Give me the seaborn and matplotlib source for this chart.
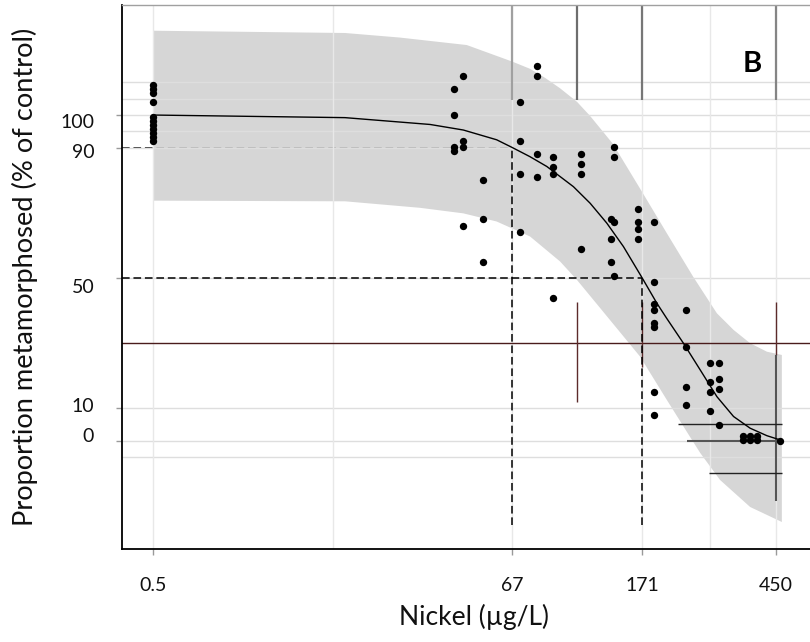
import numpy as np
import pandas as pd
import matplotlib
matplotlib.use("Agg")
import matplotlib.pyplot as plt
from matplotlib.ticker import FixedLocator, NullLocator
from matplotlib.transforms import ScaledTranslation
import seaborn as sns

# ---------------- data ----------------
control_conc = 0.5
control_resp = [109.2, 108.0, 106.8, 104.1, 99.4, 98.2, 97.0, 95.7, 94.5, 93.3, 92.1]

conc = [47.0, 44.1, 44.1, 47.0, 47.0, 44.1, 44.1, 54.0, 47.0, 54.0, 54.0,
        79.9, 79.9, 70.8, 70.8, 79.9, 70.8, 79.9, 70.8,
        90.1, 90.1, 90.1, 90.1,
        110.0, 110.0, 110.0, 110.0,
        139.9, 139.9, 136.4, 139.9, 136.4, 136.4, 139.9,
        166.5, 166.5, 166.5, 166.5,
        186.9, 186.9, 186.9, 186.9, 186.9, 186.9, 186.9, 186.9,
        234.4, 234.4, 234.4, 234.4,
        279.4, 279.4, 279.4, 279.4,
        297.8, 297.8, 297.8, 297.8,
        355.4, 355.4, 373.2, 373.2, 391.6, 391.6, 463.6]
resp = [112.0, 107.9, 100.0, 92.1, 90.3, 90.1, 89.0, 80.0, 66.0, 68.1, 55.0,
        115.1, 112.0, 104.0, 92.1, 88.0, 81.9, 80.9, 64.0,
        87.0, 84.0, 81.9, 43.7,
        88.0, 85.0, 81.9, 58.9,
        90.1, 87.0, 68.1, 67.1, 61.9, 54.8, 50.7,
        71.2, 67.1, 65.0, 61.9,
        67.1, 48.7, 42.0, 40.0, 36.0, 34.8, 14.9, 7.9,
        40.1, 28.9, 16.6, 10.9,
        23.8, 17.9, 14.9, 9.1,
        23.8, 18.9, 15.9, 4.7,
        1.5, 0.2, 1.5, 0.2, 1.5, 0.2, 0.0]

curve_x = [0.5, 20, 37.0, 47.0, 59.8, 67, 76.1, 85.9, 104.1, 117.5, 132.5,
           149.4, 171, 190.2, 204.4, 230.5, 260.2, 293.5, 331.0, 373.2, 421.3, 463.6]
curve_y = [100, 99.2, 97.1, 95.4, 92.4, 90, 87.2, 84.2, 78.0, 72.9, 66.8,
           59.6, 50, 42.2, 37.5, 29.9, 21.7, 13.5, 7.4, 3.8, 1.5, 0.2]

upper_x = [0.5, 20, 29.7, 48.2, 67, 76.1, 84.9, 94.6, 107.0, 117.5, 138.6, 171.9,
           204.4, 247.4, 293.5, 331.0, 373.2, 421.3, 469.2]
upper_y = [125.9, 125.2, 123.8, 121.5, 116.4, 114.2, 111.4, 108.2, 104.0, 99.7, 91.1, 76.0,
           63.7, 50.3, 39.1, 34.0, 29.9, 27.3, 26.3]
lower_x = [0.5, 20, 34.4, 47.0, 59.8, 76.1, 94.6, 106.7, 127.8, 168.5, 204.4,
           241.5, 260.2, 300.3, 373.2, 469.2]
lower_y = [73.7, 73.5, 71.5, 69.8, 67.3, 62.7, 55.0, 49.4, 40.1, 25.8, 12.5,
           1.2, -3.8, -12.1, -20.4, -25.0]

ec10, ec50 = 67, 171
x_ticks = [0.5, 67, 171, 450]
x_ticklabels = ["0.5", "67", "171", "450"]
y_ticks = [0, 10, 50, 90, 100]

# ---------------- style ----------------
sns.set_theme(style="white")
plt.rcParams["font.family"] = ["Lato", "DejaVu Sans"]

fig = plt.figure(figsize=(8.1, 6.42), dpi=100)
ax = fig.add_axes([122 / 810, 93 / 642, 688 / 810, 544 / 642])

LOG20 = np.log10(20.0)
R = (LOG20 - np.log10(5.0)) / (LOG20 - np.log10(0.5))


def fwd(x):
    x = np.asarray(x, dtype=float)
    lx = np.log10(np.clip(x, 1e-9, None))
    return np.where(lx >= LOG20, lx, LOG20 + (lx - LOG20) * R)


def inv(y):
    y = np.asarray(y, dtype=float)
    return np.where(y >= LOG20, 10.0 ** y, 10.0 ** (LOG20 + (y - LOG20) / R))


ax.set_xscale("function", functions=(fwd, inv))
XMIN, XMAX = 0.275, 575
ax.set_xlim(XMIN, XMAX)
ax.set_ylim(-33.3, 133.8)

DASH = (0, (5, 2.5))

# reference dashed line (below band)
ax.hlines(90, XMIN, ec10, colors="black", lw=1.1, linestyles=DASH, zorder=1)

# confidence band
ax.fill(np.r_[upper_x, lower_x[::-1]], np.r_[upper_y, lower_y[::-1]],
        color="#cfcfcf", alpha=0.85, lw=0, zorder=1.5)

# grid lines
for v in [110, 105, 100, 95, 90, 50, 10, 0, -5]:
    ax.axhline(v, color="#dedede", lw=1, zorder=2)
for xv in [0.5, 15.9, 67, 171, 279.5, 450]:
    ax.axvline(xv, color="#e8e8e8", lw=1, zorder=2)

# stray segments in the original figure
ax.axhline(30, color="#4a1c1c", lw=1.0, zorder=2.2)
ax.vlines([67, 107, 171, 450], 104.6, 133.8,
          colors=["#a0a0a0", "#6e6e6e", "#777777", "#858585"], lw=1.6, zorder=2.2)
ax.vlines([107, 171, 450], 42.7, [12.0, 22.6, 26.3], colors="#5c2b2b", lw=1.0, zorder=2.2)
ax.vlines(450, -18.7, 26.3, colors="#555555", lw=1.5, zorder=2.2)
ax.hlines([5.0, -10.0], [221.4, 276.3], 469.2, colors="#222222", lw=1.0, zorder=2.2)
ax.hlines(0.0, 236.0, 469.2, colors="#555555", lw=1.5, zorder=2.2)

# dashed EC lines
ax.hlines(50, XMIN, ec50, colors="black", lw=1.1, linestyles=DASH, zorder=2.5)
ax.vlines([ec10, ec50], -25.8, [90, 50], colors="black", lw=1.1,
          linestyles=DASH, zorder=2.5)

# fitted curve
sns.lineplot(x=curve_x, y=curve_y, color="black", lw=1.0, estimator=None,
             sort=False, ax=ax, zorder=3)

# observations
df = pd.DataFrame({
    "conc": [control_conc] * len(control_resp) + conc,
    "resp": control_resp + resp,
})
sns.scatterplot(data=df, x="conc", y="resp", color="black", s=28,
                linewidth=0, ax=ax, zorder=4)

# axes / ticks
ax.xaxis.set_major_locator(FixedLocator(x_ticks))
ax.xaxis.set_minor_locator(NullLocator())
ax.set_xticklabels(x_ticklabels)
ax.set_yticks(y_ticks)
ax.tick_params(axis="both", which="major", bottom=True, left=True, length=4,
               width=1, color="#9a9a9a", labelsize=14, labelcolor="#111111",
               direction="out")
ax.tick_params(axis="x", pad=16)
ax.tick_params(axis="y", pad=16)

for side in ["left", "bottom"]:
    ax.spines[side].set_color("black")
    ax.spines[side].set_linewidth(1.3)
ax.spines["top"].set_color("#a0a0a0")
ax.spines["top"].set_linewidth(1.0)
ax.spines["right"].set_visible(False)

ax.set_xlabel("Nickel (µg/L)", fontsize=19, color="#111111")
ax.set_ylabel("Proportion metamorphosed (% of control)", fontsize=19.6, color="#111111")
ax.xaxis.label.set_va("center")
ax.yaxis.label.set_va("center")
ax.xaxis.set_label_coords(0.5116, -0.124)
ax.yaxis.set_label_coords(-0.141, 0.5)

ax.text(378.5, 113.2, "B", ha="center", va="baseline", fontsize=21,
        fontweight="bold", color="black", zorder=5)

# the original y labels sit slightly off their tick marks (pixels, + = down)
fig.canvas.draw()
label_shift_px = {"0": -6, "10": -3, "50": 8, "90": 3, "100": 6}
for lab in ax.get_yticklabels():
    dy = label_shift_px.get(lab.get_text(), 0)
    lab.set_transform(lab.get_transform()
                      + ScaledTranslation(0, -dy / fig.dpi, fig.dpi_scale_trans))

fig.savefig("out.png", dpi=100)
